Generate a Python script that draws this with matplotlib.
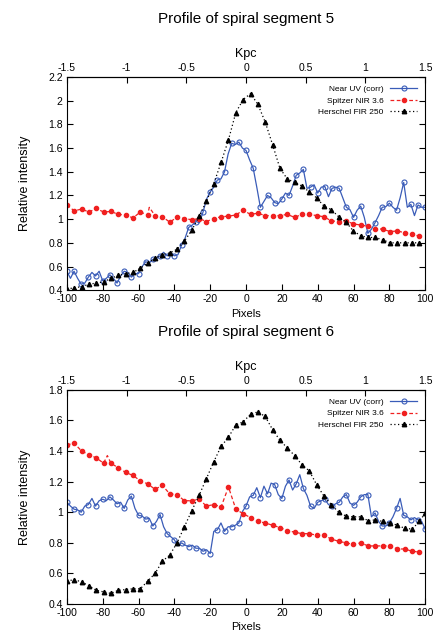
import numpy as np
import matplotlib
matplotlib.use("Agg")
import matplotlib.pyplot as plt
from matplotlib.ticker import FormatStrFormatter

plt.rcParams['font.family'] = ['Liberation Sans', 'DejaVu Sans']
plt.rcParams['axes.unicode_minus'] = False

# ---- data -------------------------------------------------------------
# pixel grids
x_uv = np.arange(-100, 101, 2)          # near UV sampled every 2 px
x_mk = np.arange(-100, 97.5, 4.1)       # Spitzer / Herschel sample points

# segment 5
uv5 = [0.56, 0.50, 0.56, 0.50, 0.45, 0.46, 0.51, 0.55, 0.52, 0.56,
       0.48, 0.50, 0.53, 0.50, 0.46, 0.52, 0.56, 0.55, 0.51, 0.54,
       0.54, 0.60, 0.64, 0.63, 0.66, 0.67, 0.69, 0.72, 0.69, 0.72,
       0.69, 0.70, 0.78, 0.84, 0.93, 0.95, 0.98, 0.97, 1.06, 1.17,
       1.23, 1.27, 1.33, 1.34, 1.40, 1.55, 1.64, 1.63, 1.65, 1.60,
       1.58, 1.50, 1.43, 1.27, 1.10, 1.15, 1.20, 1.18, 1.14, 1.13,
       1.17, 1.22, 1.20, 1.28, 1.37, 1.39, 1.42, 1.26, 1.27, 1.29,
       1.22, 1.27, 1.275, 1.19, 1.26, 1.27, 1.26, 1.18, 1.10, 1.08,
       1.015, 1.075, 1.11, 1.015, 0.88, 0.915, 0.97, 1.03, 1.10, 1.105,
       1.135, 1.10, 1.075, 1.18, 1.31, 1.10, 1.125, 1.03, 1.12, 1.10,
       1.10]
nir5 = [1.12, 1.07, 1.085, 1.06, 1.09, 1.06, 1.065, 1.04, 1.035, 1.01,
        1.06, 1.035, 1.03, 1.02, 0.975, 1.015, 1.005, 0.995, 1.005, 0.98,
        1.005, 1.02, 1.025, 1.035, 1.075, 1.04, 1.05, 1.03, 1.03, 1.03,
        1.04, 1.015, 1.04, 1.04, 1.03, 1.02, 0.985, 0.98, 0.985, 0.96,
        0.95, 0.94, 0.92, 0.915, 0.895, 0.90, 0.885, 0.875, 0.855]
fir5 = [0.41, 0.42, 0.43, 0.45, 0.46, 0.47, 0.50, 0.525, 0.54, 0.55,
        0.585, 0.63, 0.67, 0.70, 0.715, 0.745, 0.815, 0.905, 1.025, 1.15,
        1.30, 1.48, 1.67, 1.90, 2.01, 2.06, 1.97, 1.82, 1.63, 1.43,
        1.34, 1.31, 1.28, 1.23, 1.18, 1.11, 1.08, 1.02, 0.975, 0.90,
        0.86, 0.845, 0.845, 0.825, 0.80, 0.80, 0.80, 0.80, 0.80]
spike5 = (-54.0, 1.10)

# segment 6
uv6 = [1.065, 1.04, 1.02, 1.015, 1.00, 1.04, 1.05, 1.09, 1.04, 1.075,
       1.085, 1.075, 1.10, 1.08, 1.055, 1.065, 1.025, 1.08, 1.105, 1.025,
       0.98, 0.975, 0.955, 0.96, 0.91, 0.94, 0.985, 0.905, 0.86, 0.84,
       0.82, 0.78, 0.80, 0.785, 0.775, 0.785, 0.765, 0.765, 0.745, 0.755,
       0.73, 0.875, 0.885, 0.93, 0.875, 0.905, 0.905, 0.915, 0.93, 1.005,
       1.04, 1.10, 1.11, 1.16, 1.095, 1.17, 1.12, 1.19, 1.18, 1.115,
       1.09, 1.17, 1.21, 1.145, 1.185, 1.245, 1.155, 1.11, 1.04, 1.025,
       1.065, 1.075, 1.085, 1.05, 1.04, 1.055, 1.065, 1.10, 1.115, 1.06,
       1.045, 1.065, 1.10, 1.115, 1.115, 0.97, 0.995, 0.94, 0.91, 0.91,
       0.93, 0.97, 1.025, 1.09, 0.98, 0.97, 0.95, 0.965, 0.95, 0.94,
       0.89]
nir6 = [1.44, 1.45, 1.40, 1.375, 1.355, 1.32, 1.32, 1.29, 1.26, 1.24,
        1.205, 1.185, 1.15, 1.175, 1.12, 1.115, 1.075, 1.075, 1.085, 1.04,
        1.05, 1.035, 1.165, 1.02, 0.99, 0.965, 0.94, 0.93, 0.915, 0.90,
        0.88, 0.87, 0.86, 0.86, 0.85, 0.85, 0.825, 0.81, 0.80, 0.79,
        0.80, 0.78, 0.78, 0.78, 0.78, 0.76, 0.76, 0.745, 0.74]
fir6 = [0.55, 0.56, 0.545, 0.52, 0.49, 0.48, 0.47, 0.49, 0.495, 0.50,
        0.50, 0.55, 0.60, 0.68, 0.72, 0.80, 0.905, 1.01, 1.11, 1.22,
        1.33, 1.43, 1.49, 1.57, 1.59, 1.64, 1.655, 1.625, 1.54, 1.47,
        1.42, 1.37, 1.31, 1.27, 1.18, 1.105, 1.05, 1.00, 0.975, 0.97,
        0.97, 0.945, 0.95, 0.94, 0.93, 0.915, 0.895, 0.89, 0.94, 0.995]
x_fir6 = np.append(x_mk, 100)
spike6 = (-77.4, 1.37)

panels = [
    ("Profile of spiral segment 5", uv5, nir5, fir5, x_mk, spike5, (0.4, 2.2)),
    ("Profile of spiral segment 6", uv6, nir6, fir6, x_fir6, spike6, (0.4, 1.8)),
]

BLUE = "#3a5cb8"
RED = "#f02020"

fig = plt.figure(figsize=(4.37, 6.42), dpi=100)
rects = [[0.153, 0.548, 0.820, 0.332], [0.153, 0.059, 0.820, 0.334]]

for rect, (title, uv, nir, fir, xf, spike, ylim) in zip(rects, panels):
    ax = fig.add_axes(rect)

    # insert the unmarked spike into the NIR line
    xn = np.array(x_mk)
    yn = np.array(nir)
    k = np.searchsorted(xn, spike[0])
    xn = np.insert(xn, k, spike[0])
    yn = np.insert(yn, k, spike[1])
    marks = [i for i in range(len(xn)) if i != k]

    ax.plot(x_uv, uv, color=BLUE, lw=0.9, marker="o", ms=3.6, mfc="none",
            mew=0.8, markevery=2, label="Near UV (corr)")
    ax.plot(xn, yn, color=RED, lw=0.9, ls=(0, (3, 2)), marker="o", ms=3,
            markevery=marks, label="Spitzer NIR 3.6")
    ax.plot(xf, fir, color="black", lw=0.9, ls=(0, (1, 2)),
            marker="^", ms=3.2, label="Herschel FIR 250")

    ax.set_xlim(-100, 100)
    ax.set_ylim(*ylim)
    ax.set_xticks(np.arange(-100, 101, 20))
    ax.set_yticks(np.arange(ylim[0], ylim[1] + 0.01, 0.2))
    ax.yaxis.set_major_formatter(FormatStrFormatter("%g"))
    ax.tick_params(direction="in", labelsize=7.5, length=4, right=True, pad=3)
    ax.set_xlabel("Pixels", fontsize=8, labelpad=3)
    ax.set_ylabel("Relative intensity", fontsize=9, labelpad=12)

    top = ax.secondary_xaxis("top", functions=(lambda p: p * 0.015, lambda k: k / 0.015))
    top.set_xticks(np.arange(-1.5, 1.51, 0.5))
    top.xaxis.set_major_formatter(FormatStrFormatter("%g"))
    top.tick_params(direction="in", labelsize=7.5, length=4, pad=3)
    top.set_xlabel("Kpc", fontsize=9, labelpad=4)

    ax.legend(loc="upper right", frameon=False, markerfirst=False, fontsize=6,
              handlelength=3.2, labelspacing=0.45, borderaxespad=0.6)

    fig.text(rect[0] + rect[2] / 2, rect[1] + rect[3] + 0.09, title,
             ha="center", va="center", fontsize=11)

fig.savefig("out.png", dpi=100)
